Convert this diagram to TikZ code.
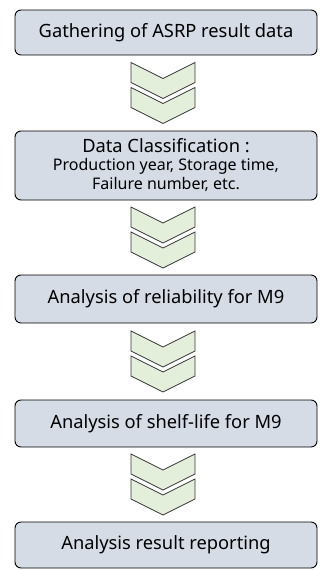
\documentclass[tikz,border=0pt]{standalone}
\usepackage{fontspec}
\setmainfont{Noto Sans}
\usetikzlibrary{calc}
\definecolor{boxfill}{RGB}{214,220,230}
\definecolor{chevfill}{RGB}{227,239,218}
\definecolor{chevline}{RGB}{55,55,55}
\tikzset{
  stepbox/.style={draw=black, line width=0.9pt, fill=boxfill, rounded corners=6pt,
    minimum width=302pt, inner sep=0pt, align=center, font=\fontsize{18.3}{19}\selectfont},
  chev/.pic={
    \draw[chevline, line width=0.8pt, fill=chevfill, line join=miter]
      (-32,30.5) -- (0,14.5) -- (32,30.5) -- (32,10.5) -- (0,-5.5) -- (-32,10.5) -- cycle;
    \draw[chevline, line width=0.8pt, fill=chevfill, line join=miter]
      (-32,5.5) -- (0,-10.5) -- (32,5.5) -- (32,-14.5) -- (0,-30.5) -- (-32,-14.5) -- cycle;
  }
}
\begin{document}
\begin{tikzpicture}[x=1pt,y=1pt]
\useasboundingbox (0,0) rectangle (320,-570);
\node[stepbox, minimum height=45pt] (b1) at (166,-32.5) {Gathering of ASRP result data};
\node[stepbox, minimum height=69pt] (b2) at (166,-165.5) {Data Classification :\\[-1pt]\fontsize{16}{18.5}\selectfont Production year, Storage time,\\\fontsize{16}{18.5}\selectfont Failure number, etc.};
\node[stepbox, minimum height=48pt] (b3) at (166,-299) {Analysis of reliability for M9};
\node[stepbox, minimum height=47pt] (b4) at (166,-423.5) {Analysis of shelf-life for M9};
\node[stepbox, minimum height=46pt] (b5) at (166,-545) {Analysis result reporting};
\coordinate (c1) at ($(b1.south)!0.5!(b2.north)$);
\coordinate (c2) at ($(b2.south)!0.5!(b3.north)$);
\coordinate (c3) at ($(b3.south)!0.5!(b4.north)$);
\coordinate (c4) at ($(b4.south)!0.5!(b5.north)$);
\pic at ($(c1)+(-3,0)$) {chev};
\pic at ($(c2)+(-3,0)$) {chev};
\pic at ($(c3)+(-3,0)$) {chev};
\pic at ($(c4)+(-3,0)$) {chev};
\end{tikzpicture}
\end{document}
